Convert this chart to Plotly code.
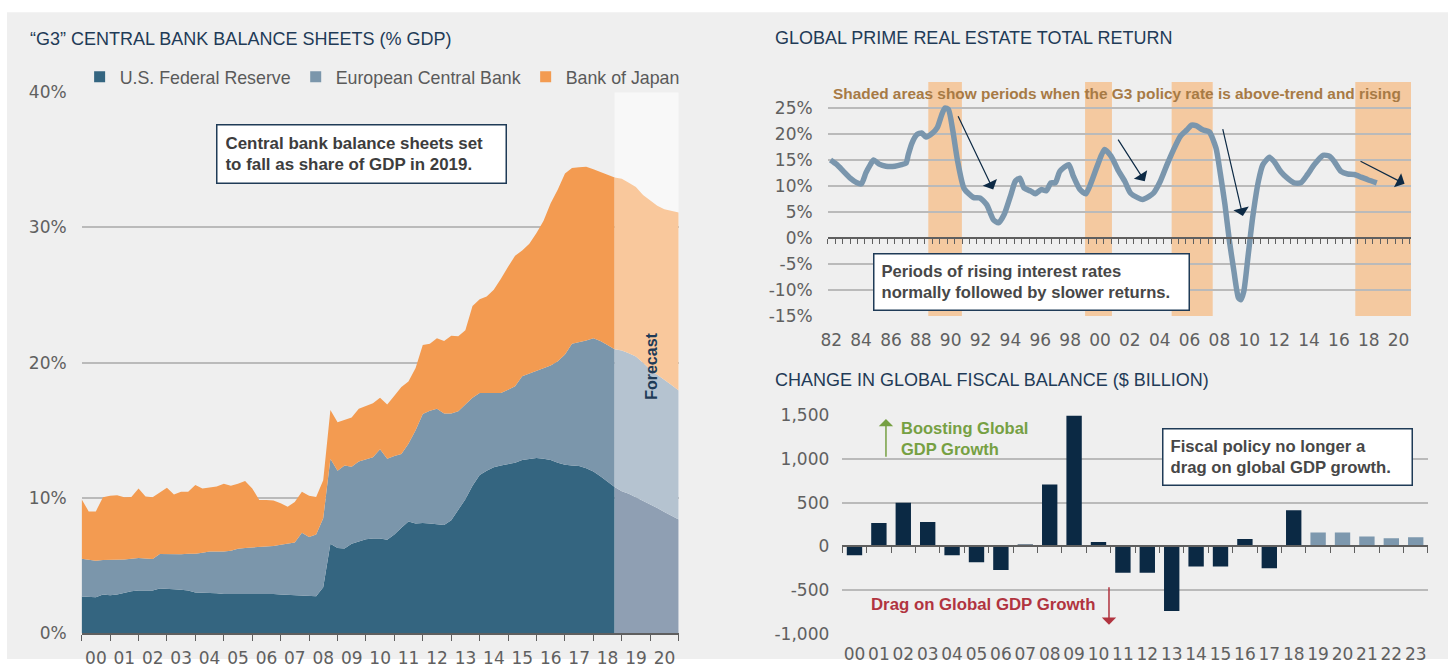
import plotly.graph_objects as go
import pandas as pd

W, H = 1448, 669
# positions below are given in target-picture pixels; px/py map them into figure fractions
# (the photographed page shows up slightly inset, so the inset is undone here)
SX, TX, SY, TY = 0.9934, 7.5, 0.9704, 8.7
def px(x): return ((x - TX) / SX) / W
def py(y): return 1 - ((y - TY) / SY) / H

# ---------------- data: left chart (% of GDP, quarterly) ----------------
cb_dates = pd.date_range("2000-01-01", periods=76, freq="QS").strftime("%Y-%m-%d").tolist()
fed = [2.7, 2.7, 2.65, 2.85, 2.8, 2.85, 3.0, 3.1, 3.15, 3.15, 3.15, 3.3, 3.3, 3.25, 3.2, 3.15,
       3.0, 3.0, 3.0, 2.95, 2.9, 2.9, 2.92, 2.95, 2.95, 2.95, 2.92, 2.9, 2.85, 2.82, 2.8, 2.78,
       2.75, 2.72, 3.4, 6.6, 6.3, 6.25, 6.6, 6.8, 6.95, 7.0, 7.0, 6.9, 7.3, 7.8, 8.25, 8.1,
       8.15, 8.1, 8.05, 8.0, 8.35, 9.1, 9.9, 10.9, 11.7, 12.0, 12.27, 12.4, 12.5, 12.6, 12.8, 12.9,
       12.95, 12.9, 12.8, 12.6, 12.45, 12.4, 12.35, 12.2, 11.95, 11.6, 11.2, 10.8]
ecb = [2.8, 2.7, 2.7, 2.55, 2.6, 2.57, 2.45, 2.4, 2.4, 2.37, 2.33, 2.55, 2.54, 2.55, 2.64, 2.71,
       2.87, 2.95, 3.04, 3.09, 3.14, 3.2, 3.31, 3.35, 3.38, 3.41, 3.48, 3.55, 3.68, 3.78, 3.9, 4.65,
       4.35, 4.58, 5.1, 6.3, 5.7, 6.15, 5.7, 5.9, 5.9, 6.0, 6.6, 6.0, 5.8, 5.45, 5.75, 6.9,
       8.05, 8.35, 8.55, 8.25, 7.9, 7.3, 7.0, 6.5, 6.05, 5.75, 5.53, 5.35, 5.5, 5.65, 6.2, 6.3,
       6.4, 6.7, 7.0, 7.5, 8.15, 9.0, 9.15, 9.45, 9.85, 10.0, 10.1, 10.2]
boj = [4.4, 3.6, 3.65, 4.65, 4.75, 4.78, 4.6, 4.57, 5.15, 4.58, 4.57, 4.55, 4.91, 4.45, 4.61, 4.59,
       5.08, 4.75, 4.71, 4.81, 5.01, 4.8, 4.82, 4.95, 4.37, 3.49, 3.45, 3.35, 3.07, 2.75, 3.0, 3.02,
       3.05, 2.77, 2.8, 3.6, 3.6, 3.4, 3.65, 3.9, 3.95, 4.0, 3.8, 4.0, 4.45, 4.95, 4.6, 4.6,
       5.1, 4.95, 5.2, 5.35, 5.75, 5.55, 5.5, 6.8, 6.95, 7.15, 7.6, 8.45, 9.1, 9.65, 9.3, 9.6,
       10.25, 10.9, 12.0, 12.7, 13.4, 13.0, 12.95, 12.85, 12.5, 12.5, 12.55, 12.7]
fc_dates = pd.date_range("2018-10-01", periods=10, freq="QS").strftime("%Y-%m-%d").tolist()
fed_fc = [10.8, 10.5, 10.3, 10.05, 9.8, 9.5, 9.25, 8.95, 8.7, 8.4]
ecb_fc = [10.2, 10.4, 10.4, 10.4, 10.2, 10.0, 9.85, 9.8, 9.65, 9.55]
boj_fc = [12.7, 12.7, 12.6, 12.55, 12.4, 12.5, 12.5, 12.6, 12.85, 13.15]
cb_names = ["U.S. Federal Reserve", "European Central Bank", "Bank of Japan"]
cb_yticks = [0, 10, 20, 30, 40]
cb_ylabels = ["0%", "10%", "20%", "30%", "40%"]
forecast_start, forecast_end = "2018-10-01", "2021-01-01"

# ---------------- data: top-right chart (total return, %) ----------------
re_years = [1981.95, 1982.38, 1982.82, 1983.27, 1983.72, 1984.02, 1984.32, 1984.62, 1984.83, 1985.21,
            1985.66, 1986.26, 1986.71, 1987.01, 1987.16, 1987.4, 1987.75, 1988.05, 1988.35, 1988.8,
            1989.1, 1989.4, 1989.61, 1989.85, 1990.15, 1990.45, 1990.9, 1991.51, 1991.96, 1992.41,
            1992.86, 1993.2, 1993.58, 1994.03, 1994.33, 1994.63, 1994.92, 1995.37, 1995.67, 1996.06,
            1996.41, 1996.71, 1997.01, 1997.31, 1997.91, 1998.21, 1998.66, 1999.05, 1999.4, 1999.85,
            2000.3, 2000.75, 2001.2, 2001.66, 2002.04, 2002.55, 2002.85, 2003.29, 2003.59, 2004.04,
            2004.49, 2004.93, 2005.38, 2005.83, 2006.13, 2006.43, 2006.88, 2007.32, 2007.77, 2008.07,
            2008.37, 2008.67, 2008.97, 2009.27, 2009.42, 2009.63, 2009.93, 2010.22, 2010.61, 2010.91,
            2011.36, 2011.66, 2012.1, 2012.55, 2013.0, 2013.45, 2013.9, 2014.35, 2014.94, 2015.39,
            2015.69, 2016.14, 2016.59, 2017.04, 2017.49, 2017.94, 2018.54]
re_values = [15.0, 14.1, 12.8, 11.5, 10.6, 10.4, 12.5, 14.1, 15.0, 14.2,
             13.8, 13.8, 14.1, 14.4, 16.0, 18.2, 19.9, 20.2, 19.4, 20.2,
             21.2, 23.7, 25.0, 24.7, 20.5, 15.0, 9.5, 7.8, 7.7, 6.4,
             3.5, 2.9, 4.5, 8.3, 10.9, 11.5, 9.6, 9.0, 8.5, 9.3,
             9.1, 10.6, 10.6, 12.8, 14.1, 11.9, 9.3, 8.5, 10.6, 14.1,
             17.0, 15.7, 13.1, 10.9, 8.65, 7.7, 7.4, 8.0, 8.65, 10.9,
             14.1, 17.0, 19.55, 20.8, 21.7, 21.6, 20.8, 20.4, 17.3, 12.2,
             6.4, -0.6, -6.4, -11.5, -11.9, -10.3, -3.2, 3.8, 10.9, 14.1,
             15.5, 14.7, 12.8, 11.5, 10.6, 10.6, 12.2, 14.1, 15.9, 15.7,
             14.7, 12.8, 12.3, 12.2, 11.7, 11.2, 10.6]
shade_start = [1988.5, 1999.0, 2004.8, 2017.1]
shade_end = [1990.75, 2000.8, 2007.55, 2020.83]
re_xticks = list(range(1982, 2021, 2))
re_xlabels = [f"{y % 100:02d}" for y in re_xticks]
re_yticks = [-15, -10, -5, 0, 5, 10, 15, 20, 25]
re_ylabels = [f"{v}%" for v in re_yticks]
re_range = [1981.76, 2020.83]
# arrows: (tail year, tail %, head year, head %)
re_arrows = [(1990.45, 23.7, 1992.85, 9.3), (2001.15, 19.2, 2003.0, 10.9),
             (2008.2, 21.2, 2009.57, 4.2), (2017.35, 14.9, 2020.4, 10.4)]

# ---------------- data: bottom-right chart ($ billion) ----------------
fiscal_labels = ["00", "01", "02", "03", "04", "05", "06", "07", "08", "09", "10", "11",
                 "12", "13", "14", "15", "16", "17", "18", "19", "20", "21", "22", "23"]
fiscal_values = [-100, 270, 500, 280, -100, -180, -270, 15, 710, 1500, 50, -300,
                 -300, -740, -230, -230, 85, -250, 415, 160, 160, 115, 95, 105]
fiscal_status = ["actual"] * 19 + ["forecast"] * 5
fiscal_yticks = [-1000, -500, 0, 500, 1000, 1500]
fiscal_ylabels = ["-1,000", "-500", "0", "500", "1,000", "1,500"]

# ---------------- styles ----------------
NAVY = "#1f3b57"
TICKC = "#606060"
GRID = "#bababa"
AXIS = "#5f5f5f"
BG = "#efefef"
SANS = "Liberation Sans, Arial, sans-serif"
TICKF = "DejaVu Sans, sans-serif"
C_FED, C_ECB, C_BOJ = "#346580", "#7b96ab", "#f39b51"
C_FED_F, C_ECB_F, C_BOJ_F = "#8f9fb3", "#b5c3d0", "#f9c89c"
C_LINE = "#7a96ad"
C_BAND = "#f4c9a0"
C_BAR, C_BAR_F = "#0b2944", "#7d98ae"
C_ARROW = "#0d2a45"

fig = go.Figure()

for vals, col, nm in zip([fed, ecb, boj], [C_FED, C_ECB, C_BOJ], cb_names):
    fig.add_trace(go.Scatter(x=cb_dates, y=vals, stackgroup="hist", mode="lines",
                             line=dict(width=0), fillcolor=col, name=nm, showlegend=False,
                             hoverinfo="skip", xaxis="x", yaxis="y"))
for vals, col, nm in zip([fed_fc, ecb_fc, boj_fc], [C_FED_F, C_ECB_F, C_BOJ_F], cb_names):
    fig.add_trace(go.Scatter(x=fc_dates, y=vals, stackgroup="fc", mode="lines",
                             line=dict(width=0), fillcolor=col, name=nm, showlegend=False,
                             hoverinfo="skip", xaxis="x", yaxis="y"))
for col, nm in zip([C_FED, C_ECB, C_BOJ], cb_names):
    fig.add_trace(go.Scatter(x=[None], y=[None], mode="markers", name=nm,
                             marker=dict(symbol="square", size=11, color=col),
                             xaxis="x", yaxis="y"))

fig.add_trace(go.Scatter(x=re_years, y=re_values, mode="lines",
                         line=dict(color=C_LINE, width=5.5, shape="spline", smoothing=0.6),
                         showlegend=False, hoverinfo="skip", xaxis="x2", yaxis="y2"))
fig.add_trace(go.Scatter(x=[1990], y=[None], mode="markers", showlegend=False,
                         xaxis="x3", yaxis="y2"))

fig.add_trace(go.Bar(x=fiscal_labels, y=fiscal_values,
                     marker=dict(color=[C_BAR if s == "actual" else C_BAR_F for s in fiscal_status],
                                 line=dict(width=0)),
                     showlegend=False, hoverinfo="skip", xaxis="x4", yaxis="y3"))
fig.add_trace(go.Scatter(x=[0], y=[None], mode="markers", showlegend=False,
                         xaxis="x5", yaxis="y3"))

tickfont = dict(family=TICKF, size=17, color=TICKC)

shapes = [
    dict(type="rect", xref="paper", yref="paper", x0=0, x1=1, y0=0, y1=py(11),
         fillcolor=BG, line=dict(width=0), layer="below"),
    dict(type="rect", xref="x", yref="y", x0=forecast_start, x1=forecast_end, y0=0, y1=40,
         fillcolor="#f8f8f8", line=dict(width=0), layer="below"),
]
for s0, s1 in zip(shade_start, shade_end):
    shapes.append(dict(type="rect", xref="x2", yref="y2", x0=s0, x1=s1, y0=-15, y1=30,
                       fillcolor=C_BAND, line=dict(width=0), layer="below"))

def note(x, y, text, size, color, xanchor="left", yanchor="middle", **kw):
    d = dict(x=px(x), y=py(y), xref="paper", yref="paper", xanchor=xanchor, yanchor=yanchor,
             text=text, showarrow=False, font=dict(family=SANS, size=size, color=color))
    d.update(kw)
    return d

annotations = [
    note(28, 38, "“G3” CENTRAL BANK BALANCE SHEETS (% GDP)", 18, NAVY),
    note(772, 37, "GLOBAL PRIME REAL ESTATE TOTAL RETURN", 18, NAVY),
    note(772, 379, "CHANGE IN GLOBAL FISCAL BALANCE ($ BILLION)", 18, NAVY),
    note(216, 123, "<b>Central bank balance sheets set<br>to fall as share of GDP in 2019.</b>",
         16.9, "#3d3d3d", yanchor="top", align="left", bgcolor="white", bordercolor=NAVY,
         borderwidth=1.5, borderpad=8, width=272),
    note(651, 365, "<b>Forecast</b>", 16, NAVY, xanchor="center", textangle=-90),
    note(1116, 92, "<b>Shaded areas show periods when the G3 policy rate is above-trend and rising</b>",
         15.4, "#a77a45", xanchor="center"),
    note(872, 252, "<b>Periods of rising interest rates<br>normally followed by slower returns.</b>",
         16.6, "#474747", yanchor="top", align="left", bgcolor="white", bordercolor=NAVY,
         borderwidth=1.5, borderpad=7, width=300),
    note(1160, 427, "<b>Fiscal policy no longer a<br>drag on global GDP growth.</b>",
         16.7, "#474747", yanchor="top", align="left", bgcolor="white", bordercolor=NAVY,
         borderwidth=1.5, borderpad=7, width=234),
    note(898, 437, "<b>Boosting Global<br>GDP Growth</b>", 16.5, "#76a043", align="left"),
    note(868, 603, "<b>Drag on Global GDP Growth</b>", 16.8, "#b1343f"),
    dict(x=1.29, y=1460, ax=1.29, ay=1010, xref="x4", yref="y3", axref="x4", ayref="y3",
         text="", showarrow=True, arrowhead=1, arrowsize=1.6, arrowwidth=1.5, arrowcolor="#76a043"),
    dict(x=10.43, y=-895, ax=10.43, ay=-450, xref="x4", yref="y3", axref="x4", ayref="y3",
         text="", showarrow=True, arrowhead=1, arrowsize=1.6, arrowwidth=1.5, arrowcolor="#b1343f"),
]
for tx, ty, hx, hy in re_arrows:
    annotations.append(dict(x=hx, y=hy, ax=tx, ay=ty, xref="x2", yref="y2", axref="x2", ayref="y2",
                            text="", showarrow=True, arrowhead=1, arrowsize=2.2, arrowwidth=1.2,
                            arrowcolor=C_ARROW))

fig.update_layout(
    width=W, height=H, margin=dict(l=0, r=0, t=0, b=0),
    paper_bgcolor="white", plot_bgcolor=BG,
    showlegend=True, bargap=0.37,
    legend=dict(orientation="h", x=px(80), y=py(76), xanchor="left", yanchor="middle",
                traceorder="normal", bgcolor="rgba(0,0,0,0)",
                font=dict(family=SANS, size=17.8, color="#5a5a5a"),
                itemclick=False, itemdoubleclick=False),
    xaxis=dict(domain=[px(82), px(678)], anchor="y", type="date",
               range=["2000-01-01", "2021-01-01"], dtick="M12", tick0="2000-01-01",
               tickformat="%y", ticklabelmode="period", ticks="outside", ticklen=6,
               tickcolor=AXIS, tickwidth=1.3, showline=True, linecolor=AXIS, linewidth=1.5,
               showgrid=False, tickfont=tickfont, ticklabelstandoff=3, fixedrange=True),
    yaxis=dict(domain=[py(632), py(91)], anchor="x", range=[0, 40], tickvals=cb_yticks,
               ticktext=cb_ylabels, showgrid=True, gridcolor=GRID, gridwidth=1.5, zeroline=False,
               showline=False, tickfont=tickfont, ticklabelstandoff=14, fixedrange=True),
    xaxis2=dict(domain=[px(826.7), px(1409)], anchor="y2", range=re_range, tickvals=re_xticks,
                ticktext=re_xlabels, ticks="", showgrid=False, showline=False, zeroline=False,
                tickfont=tickfont, ticklabelstandoff=12, fixedrange=True),
    xaxis3=dict(overlaying="x2", anchor="free", position=py(236.7), range=re_range,
                tick0=re_range[0], dtick=0.5, ticks="outside", ticklen=5, tickcolor=AXIS,
                tickwidth=1.3, showline=True, linecolor=AXIS, linewidth=2,
                showticklabels=False, showgrid=False, zeroline=False, fixedrange=True),
    yaxis2=dict(domain=[py(314.7), py(80.7)], anchor="x2", range=[-15, 30], tickvals=re_yticks,
                ticktext=re_ylabels, showgrid=True, gridcolor=GRID, gridwidth=1.5, zeroline=False,
                tickfont=tickfont, ticklabelstandoff=14, fixedrange=True),
    xaxis4=dict(domain=[px(841.3), px(1425.9)], anchor="y3", type="category",
                categoryorder="array", categoryarray=fiscal_labels, range=[-0.5, 23.5],
                ticks="", showgrid=False, showline=False, tickfont=tickfont,
                ticklabelstandoff=8, fixedrange=True),
    xaxis5=dict(overlaying="x4", anchor="free", position=py(545.3), type="linear",
                range=[-0.5, 23.5], tick0=-0.5, dtick=1, ticks="outside", ticklen=6,
                tickcolor=AXIS, tickwidth=1.3, showline=True, linecolor=AXIS,
                linewidth=2, showticklabels=False, showgrid=False, zeroline=False, fixedrange=True),
    yaxis3=dict(domain=[py(632.7), py(414.3)], anchor="x4", range=[-1000, 1500],
                tickvals=fiscal_yticks, ticktext=fiscal_ylabels, showgrid=True, gridcolor=GRID,
                gridwidth=1.5, zeroline=False, tickfont=tickfont, ticklabelstandoff=12,
                fixedrange=True),
    shapes=shapes, annotations=annotations,
)

fig.write_html(
    "out.html", config={"displayModeBar": False},
    post_script=("var s=document.documentElement.style;s.margin='0';s.padding='0';"
                 "s.overflow='hidden';var b=document.body.style;b.margin='0';b.padding='0';"
                 "b.overflow='hidden';"))
